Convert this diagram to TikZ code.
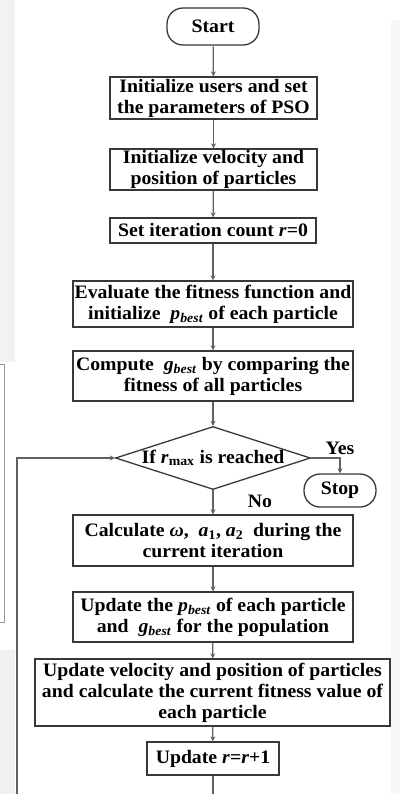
\documentclass[tikz,border=0pt]{standalone}
\usepackage{fontspec}
\setmainfont[FakeStretch=1.04]{Liberation Serif}
\usetikzlibrary{shapes.geometric,arrows.meta}
\newcommand{\pbest}{\textit{p}\textsubscript{\textit{best}}}
\newcommand{\gbest}{\textit{g}\textsubscript{\textit{best}}}
\begin{document}
\begin{tikzpicture}[x=1pt,y=-1pt,
  every node/.style={font=\fontsize{19}{21}\selectfont\bfseries, text=black},
  box/.style={draw=black!78, line width=1.3pt, rectangle, align=center, inner sep=0pt},
  term/.style={draw=black!78, line width=1.3pt, rectangle, rounded corners=16pt, inner sep=0pt},
  dec/.style={draw=black!78, line width=1.3pt, diamond, aspect=3.1, inner sep=0pt, minimum width=195pt, minimum height=63pt},
  conn/.style={draw=black!62, line width=1.2pt, -{Stealth[length=5pt,width=5pt]}},
  lbl/.style={inner sep=0pt}
]
\useasboundingbox (0,0) rectangle (400,794);
% faint background strips of the reference
\fill[black!5] (0,0) rectangle (15,362);
\fill[black!6] (0,650) rectangle (15,794);
\fill[black!3] (391,20) rectangle (400,794);
\draw[black!40, line width=0.8pt] (0,364) -- (4,364) -- (4,622) -- (0,622);

\node[term, minimum width=92pt, minimum height=37pt] (start) at (213,26.5) {Start};
\node[box, minimum width=207pt, minimum height=42pt] (b1) at (213.5,98) {Initialize users and set\\the parameters of PSO};
\node[box, minimum width=207pt, minimum height=41pt] (b2) at (213.5,169.5) {Initialize velocity and\\position of particles};
\node[box, minimum width=206pt, minimum height=25pt] (b3) at (213,230.5) {Set iteration count \textit{r}=0};
\node[box, minimum width=280pt, minimum height=46pt] (b4) at (213,304) {Evaluate the fitness function and\\initialize \ \pbest\ of each particle};
\node[box, minimum width=280pt, minimum height=50pt] (b5) at (213,376) {Compute \ \gbest\ by comparing the\\fitness of all particles};
\node[dec] (dia) at (213,458) {If \textit{r}\textsubscript{max} is reached};
\node[term, minimum width=72pt, minimum height=33pt] (stop) at (340,490.5) {Stop};
\node[box, minimum width=280pt, minimum height=51pt] (b6) at (213,540.5) {Calculate \textit{ω}, \ \textit{a}\textsubscript{1}, \textit{a}\textsubscript{2} \ during the\\current iteration};
\node[box, minimum width=280pt, minimum height=50pt] (b7) at (213,617) {Update the \pbest\ of each particle\\and \ \gbest\ for the population};
\node[box, minimum width=355pt, minimum height=67pt] (b8) at (212.5,692.5) {Update velocity and position of particles\\and calculate the current fitness value of\\each particle};
\node[box, minimum width=132pt, minimum height=33pt] (b9) at (213,758.5) {Update \textit{r}=\textit{r}+1};

\node[lbl] (yes) at (340,448) {Yes};
\node[lbl] (no) at (260,501) {No};

\draw[conn] (start) -- (b1);
\draw[conn] (b1) -- (b2);
\draw[conn] (b2) -- (b3);
\draw[conn] (b3) -- (b4);
\draw[conn] (b4) -- (b5);
\draw[conn] (b5) -- (dia);
\draw[conn] (dia.east) -| (stop.north);
\draw[conn] (dia) -- (b6);
\draw[conn] (b6) -- (b7);
\draw[conn] (b7) -- (b8);
\draw[conn] (b8) -- (b9);
\coordinate (l1) at (213,840);
\coordinate (l2) at (17,840);
\draw[conn] (b9.south) -- (l1) -- (l2) |- (dia.west);
\end{tikzpicture}
\end{document}
